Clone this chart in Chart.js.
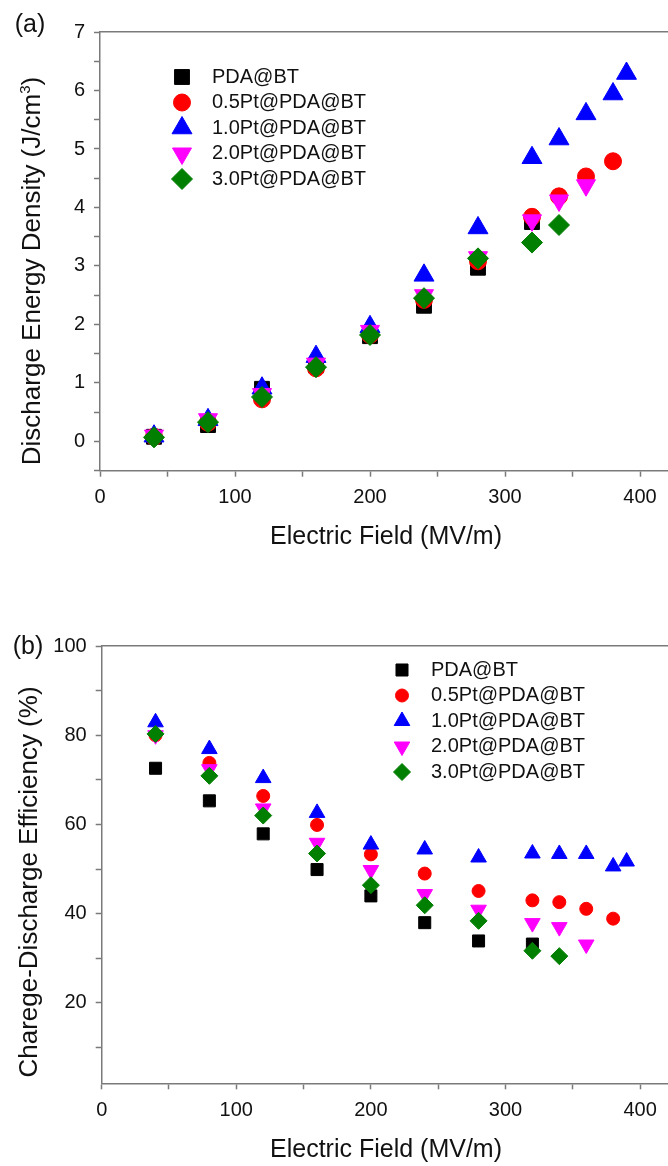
<!DOCTYPE html>
<html lang="en">
<head>
<meta charset="UTF-8">
<title>Discharge Energy Density and Efficiency</title>
<script src="https://cdn.jsdelivr.net/npm/chart.js"></script>
<style>
  body { margin: 0; background: #fff; font-family: "Liberation Sans", Arial, sans-serif; overflow: hidden; }
  .panel { position: absolute; left: 0; width: 668px; overflow: hidden; }
  .lbl { position: absolute; font-size: 25px; color: #111; white-space: nowrap; transform: translate(-50%, -50%); }
  .ytitle { font-size: 26px; transform: translate(-50%, -50%) rotate(-90deg); }
  sup { font-size: 15px; line-height: 0; }
</style>
</head>
<body>
<!-- canvases are a little wider than the window so the plot frame runs to the right edge -->
<div class="panel" style="top:0;height:580px"><canvas id="energyChart" width="680" height="580"></canvas></div>
<div class="panel" style="top:580px;height:586px"><canvas id="effChart" width="680" height="586"></canvas></div>

<div class="lbl" style="left:30px;top:23px">(a)</div>
<div class="lbl ytitle" style="left:31px;top:271px">Discharge Energy Density (J/cm<sup>3</sup>)</div>
<div class="lbl" style="left:386px;top:535px">Electric Field (MV/m)</div>

<div class="lbl" style="left:28px;top:645px">(b)</div>
<div class="lbl ytitle" style="left:28px;top:882px">Charege-Discharge Efficiency (%)</div>
<div class="lbl" style="left:386px;top:1148px">Electric Field (MV/m)</div>

<script>
// electric field steps (MV/m), each series uses the first n of them
const fieldMVm = [40, 80, 120, 160, 200, 240, 280, 320, 340, 360, 380, 390];
const seriesLabels = ['PDA@BT', '0.5Pt@PDA@BT', '1.0Pt@PDA@BT', '2.0Pt@PDA@BT', '3.0Pt@PDA@BT'];

// (a) discharge energy density, J/cm3
const energyPDA = [0.08, 0.28, 0.90, 1.30, 1.80, 2.32, 2.97, 3.75];
const energy05 = [0.08, 0.32, 0.72, 1.25, 1.82, 2.42, 3.08, 3.84, 4.19, 4.53, 4.79];
const energy10 = [0.09, 0.37, 0.91, 1.45, 1.96, 2.84, 3.65, 4.85, 5.17, 5.60, 5.94, 6.29];
const energy20 = [0.10, 0.38, 0.81, 1.33, 1.89, 2.50, 3.15, 3.78, 4.12, 4.38];
const energy30 = [0.07, 0.33, 0.76, 1.27, 1.82, 2.45, 3.13, 3.40, 3.70];

// (b) charge-discharge efficiency, %
const effPDA = [72.6, 65.3, 57.9, 49.9, 44.0, 38.0, 33.9, 33.2];
const eff05 = [80.0, 73.8, 66.4, 59.9, 53.3, 49.0, 45.1, 43.0, 42.6, 41.1, 38.9];
const eff10 = [82.9, 76.9, 70.4, 62.6, 55.5, 54.4, 52.6, 53.5, 53.4, 53.4, 50.6, 51.7];
const eff20 = [80.0, 72.4, 63.6, 55.9, 49.8, 44.4, 40.9, 37.9, 37.0, 33.1];
const eff30 = [80.3, 70.9, 62.0, 53.5, 46.4, 41.9, 38.4, 31.7, 30.5];

const colors = ['#000000', '#ff0000', '#0000ff', '#ff00ff', '#007f00'];
const shapes = ['rect', 'circle', 'triangle', 'triangle', 'rectRot'];
const rotations = [0, 0, 0, 180, 0];

const axisGrey = '#7a7a7a';
const fontFamily = '"Liberation Sans", Arial, sans-serif';

// legend drawn inside the plot, using the same marker shapes as the data
const insetLegend = {
    id: 'insetLegend',
    afterDraw(chart, args, opts) {
        const ctx = chart.ctx;
        ctx.save();
        ctx.font = '20px ' + fontFamily;
        ctx.textBaseline = 'middle';
        chart.data.datasets.forEach((ds, i) => {
            const y = opts.y + i * opts.dy;
            ctx.fillStyle = ds.backgroundColor;
            ctx.strokeStyle = ds.borderColor;
            ctx.lineWidth = 1;
            Chart.helpers.drawPoint(ctx, {
                pointStyle: ds.pointStyle,
                rotation: ds.pointRotation,
                radius: ds.pointRadius,
                borderWidth: 1
            }, opts.x, y);
            ctx.fillStyle = '#111';
            ctx.fillText(ds.label, opts.textX, y);
        });
        ctx.restore();
    }
};

function buildDatasets(seriesValues, radii) {
    return seriesValues.map((vals, i) => ({
        label: seriesLabels[i],
        data: vals.map((v, k) => ({ x: fieldMVm[k], y: v })),
        backgroundColor: colors[i],
        borderColor: colors[i],
        borderWidth: 1,
        pointStyle: shapes[i],
        pointRotation: rotations[i],
        pointRadius: radii[i],
        pointHoverRadius: radii[i],
        showLine: false,
        order: seriesValues.length - i
    }));
}

function makeChart(id, cfg) {
    const H = document.getElementById(id).height;
    const tickFont = { family: fontFamily, size: 20 };
    return new Chart(document.getElementById(id), {
        type: 'scatter',
        data: { datasets: buildDatasets(cfg.series, cfg.radii) },
        options: {
            responsive: false,
            animation: false,
            layout: { padding: { top: cfg.top, right: 13, bottom: 0, left: 0 } },
            plugins: {
                legend: { display: false },
                tooltip: { enabled: false },
                insetLegend: cfg.legend
            },
            scales: {
                x: {
                    type: 'linear', position: 'bottom', min: 0, max: 420,
                    afterFit: s => { s.height = H - cfg.bottom; },
                    grid: { display: true, drawOnChartArea: false, drawTicks: true, tickLength: 6, tickColor: axisGrey, tickWidth: 1.5 },
                    border: { display: true, color: axisGrey, width: 1.5 },
                    ticks: {
                        stepSize: 50, includeBounds: false, autoSkip: false, maxRotation: 0,
                        padding: 9, color: '#111', font: tickFont,
                        callback: v => (v % 100 === 0 ? v : '')
                    }
                },
                xTop: {
                    type: 'linear', position: 'top', min: 0, max: 420,
                    afterFit: s => { s.height = 0; },
                    grid: { display: false },
                    border: { display: true, color: axisGrey, width: 1.5 },
                    ticks: { display: false }
                },
                y: {
                    type: 'linear', position: 'left', min: cfg.yMin, max: cfg.yMax,
                    afterFit: s => { s.width = cfg.left; },
                    grid: { display: true, drawOnChartArea: false, drawTicks: true, tickLength: 6, tickColor: axisGrey, tickWidth: 1.5 },
                    border: { display: true, color: axisGrey, width: 1.5 },
                    ticks: {
                        stepSize: cfg.yStep, includeBounds: false, autoSkip: false,
                        padding: 9, color: '#111', font: tickFont,
                        callback: cfg.yLabel
                    }
                }
            }
        },
        plugins: [insetLegend]
    });
}

makeChart('energyChart', {
    series: [energyPDA, energy05, energy10, energy20, energy30],
    radii: [10.5, 8.5, 11.5, 11, 10.5],
    top: 32, bottom: 470.7, left: 100,
    yMin: -0.5, yMax: 7, yStep: 0.5,
    yLabel: v => (Math.abs(v - Math.round(v)) < 1e-6 ? Math.round(v) : ''),
    legend: { x: 182, textX: 212, y: 77, dy: 25.5 }
});

makeChart('effChart', {
    series: [effPDA, eff05, eff10, eff20, eff30],
    radii: [8.5, 6.5, 9, 9, 8.5],
    top: 66, bottom: 503.3, left: 101.7,
    yMin: 2, yMax: 100, yStep: 10,
    yLabel: v => (v % 20 === 0 ? v : ''),
    legend: { x: 402, textX: 431, y: 90, dy: 25.5 }
});
</script>
</body>
</html>
